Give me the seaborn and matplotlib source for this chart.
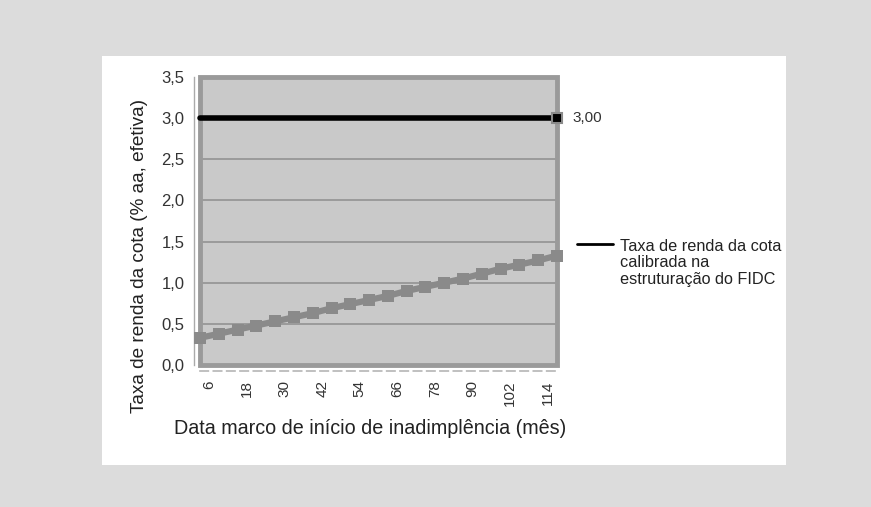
import matplotlib
matplotlib.use("Agg")
import matplotlib.pyplot as plt
from matplotlib.patches import Rectangle
from matplotlib.ticker import FuncFormatter
import seaborn as sns
import pandas as pd

# Data
months = [6, 12, 18, 24, 30, 36, 42, 48, 54, 60, 66, 72, 78, 84, 90, 96, 102, 108, 114, 120]
taxa_simulada = [0.33, 0.38, 0.43, 0.48, 0.53, 0.58, 0.63, 0.69, 0.74, 0.79,
                 0.84, 0.90, 0.95, 1.00, 1.05, 1.11, 1.17, 1.22, 1.27, 1.33]
taxa_calibrada = [3.00] * len(months)
tick_months = [6, 18, 30, 42, 54, 66, 78, 90, 102, 114]
legend_label = "Taxa de renda da cota\ncalibrada na\nestruturação do FIDC"
x_label = "Data marco de início de inadimplência (mês)"
y_label = "Taxa de renda da cota (% aa, efetiva)"

df = pd.DataFrame({"mes": months, "simulada": taxa_simulada, "calibrada": taxa_calibrada})

sns.set_theme(style="white")
plt.rcParams["font.family"] = ["Liberation Sans", "DejaVu Sans"]

fig = plt.figure(figsize=(8.71, 5.07), dpi=100)
fig.patch.set_facecolor("#dcdcdc")

# white card behind the chart
fig.patches.append(Rectangle((102 / 871, 1 - 465 / 507), (786 - 102) / 871, (465 - 56) / 507,
                             transform=fig.transFigure, facecolor="white", edgecolor="none",
                             zorder=-5))

ax = fig.add_axes([200 / 871, 1 - 365 / 507, 357 / 871, 288 / 507])
ax.set_facecolor("#c9c9c9")

step = months[1] - months[0]
ax.set_xlim(months[0], months[-1])
ax.set_ylim(0, 3.5)

# horizontal grid
ax.set_yticks([0, 0.5, 1.0, 1.5, 2.0, 2.5, 3.0, 3.5])
for yv in [0.5, 1.0, 1.5, 2.0, 2.5, 3.0]:
    ax.axhline(yv, color="#9a9a9a", lw=1.4, zorder=1)

# plot-area frame
ax.add_patch(Rectangle((0, 0), 1, 1, transform=ax.transAxes, fill=False,
                       edgecolor="#9a9a9a", lw=3.5, zorder=2, clip_on=False))

sns.lineplot(data=df, x="mes", y="simulada", ax=ax, color="#8a8a8a", lw=4.5,
             marker="s", markersize=9, markeredgewidth=0, zorder=4, clip_on=False)
sns.lineplot(data=df, x="mes", y="calibrada", ax=ax, color="black", lw=4,
             zorder=5, clip_on=False)
ax.plot([months[-1]], [taxa_calibrada[-1]], marker="s", markersize=7, color="black",
        markeredgecolor="#8a8a8a", markeredgewidth=1.5, zorder=6, clip_on=False)
ax.annotate(f"{taxa_calibrada[-1]:.2f}".replace(".", ","), (months[-1], taxa_calibrada[-1]),
            xytext=(11, 0), textcoords="offset points", va="center", ha="left",
            fontsize=11, color="#333333")

# axes lines
for s in ["top", "right"]:
    ax.spines[s].set_visible(False)
ax.spines["left"].set_position(("outward", 4))
ax.spines["left"].set_color("#aaaaaa")
ax.spines["left"].set_linewidth(1)
ax.spines["bottom"].set_position(("outward", 4))
ax.spines["bottom"].set_color("#b5b5b5")
ax.spines["bottom"].set_linewidth(1.2)
ax.spines["bottom"].set_linestyle((0, (5, 3)))

ax.set_xticks([m + step / 2 for m in tick_months])
ax.set_xticklabels([str(m) for m in tick_months], rotation=90, fontsize=11, color="#333333")
ax.yaxis.set_major_formatter(FuncFormatter(lambda v, _: f"{v:.1f}".replace(".", ",")))
ax.tick_params(axis="y", labelsize=12, colors="#333333", length=0, pad=7)
ax.tick_params(axis="x", length=0, pad=7)

ax.set_xlabel(x_label, fontsize=14.2, color="#222222")
ax.set_ylabel(y_label, fontsize=13.7, color="#222222")
ax.xaxis.set_label_coords(0.476, -0.188)
ax.yaxis.set_label_coords(-0.145, 0.38)

# legend entry for the calibrated rate
fig.lines.append(plt.Line2D([577 / 871, 613 / 871], [1 - 244 / 507, 1 - 244 / 507],
                            transform=fig.transFigure, color="black", lw=2))
fig.text(620 / 871, 1 - 239 / 507, legend_label, fontsize=11.7, color="#222222",
         va="top", ha="left", linespacing=1.12)

fig.savefig("out.png", dpi=100, facecolor=fig.get_facecolor())
